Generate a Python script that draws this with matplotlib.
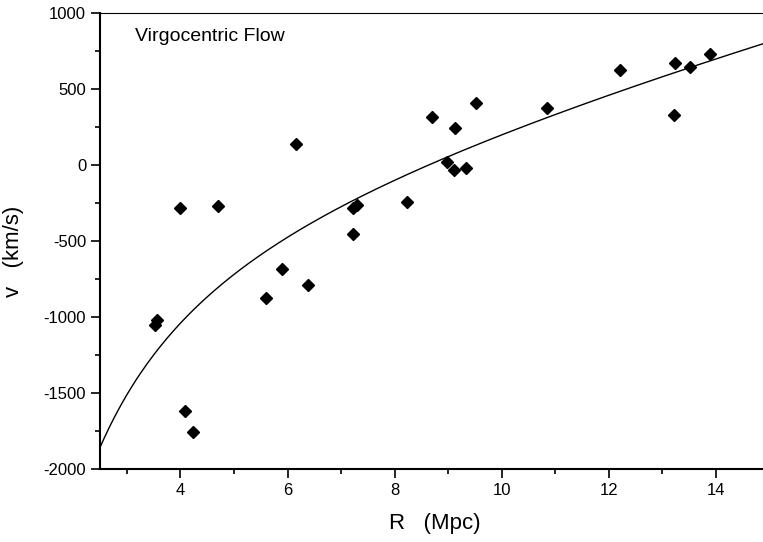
import numpy as np
import matplotlib
matplotlib.use("Agg")
import matplotlib.pyplot as plt
from matplotlib.ticker import MultipleLocator

# galaxies: distance R (Mpc) and velocity v (km/s)
r_mpc = [3.52, 3.57, 4.00, 4.09, 4.24, 4.71, 5.59, 5.90, 6.15, 6.39,
         7.23, 7.22, 7.29, 8.24, 8.70, 8.98, 9.10, 9.12, 9.33, 9.52,
         10.85, 12.21, 13.21, 13.24, 13.51, 13.89]
v_kms = [-1052, -1020, -281, -1617, -1755, -268, -873, -682, 140, -788,
         -455, -283, -262, -246, 313, 20, -33, 241, -22, 410,
         373, 625, 329, 673, 647, 728]

# model curve
curve_r = [2.507, 2.881, 3.254, 3.627, 4.0, 4.373, 4.746, 4.994,
           5.618, 6.239, 6.86, 7.483, 8.104, 8.726, 9.349, 9.97, 10.59,
           11.215, 11.836, 12.33, 13.576, 14.877]
curve_v = [-1870, -1575, -1350, -1195, -1047, -915, -806, -718,
           -565, -433, -301, -191, -82, 17, 112, 193, 280,
           362, 435, 500, 653, 791]

plt.rcParams['font.family'] = ['Liberation Sans', 'DejaVu Sans']
plt.rcParams['axes.unicode_minus'] = False

# smooth the sampled curve (cubic in log R)
coef = np.polyfit(np.log(curve_r), curve_v, 3)
rr = np.linspace(curve_r[0], curve_r[-1], 300)
vv = np.polyval(coef, np.log(rr))

fig = plt.figure(figsize=(7.63, 5.42), dpi=100)
ax = fig.add_axes([0.1311, 0.1352, 0.8689, 0.8408])

ax.plot(rr, vv, color='black', lw=1.0)
ax.plot(r_mpc, v_kms, 'D', color='black', ms=6, mec='black')

ax.set_xlim(2.5, 14.877)
ax.set_ylim(-2000, 1000)
ax.xaxis.set_major_locator(MultipleLocator(2))
ax.xaxis.set_minor_locator(MultipleLocator(1))
ax.yaxis.set_major_locator(MultipleLocator(500))
ax.yaxis.set_minor_locator(MultipleLocator(250))
ax.tick_params(which='major', direction='out', length=6.5, width=1.2, labelsize=12)
ax.tick_params(which='minor', direction='out', length=3.8, width=1.2)

ax.spines['right'].set_visible(False)
ax.spines['top'].set_linewidth(0.8)
ax.spines['left'].set_linewidth(1.5)
ax.spines['bottom'].set_linewidth(1.5)

ax.set_xlabel('R   (Mpc)', fontsize=16)
ax.set_ylabel('v   (km/s)', fontsize=16)
ax.xaxis.set_label_coords(0.505, -0.098)
ax.yaxis.set_label_coords(-0.114, 0.478)
ax.text(0.053, 0.968, 'Virgocentric Flow', transform=ax.transAxes,
        fontsize=14, va='top', ha='left')

fig.savefig('out.png', dpi=100)
